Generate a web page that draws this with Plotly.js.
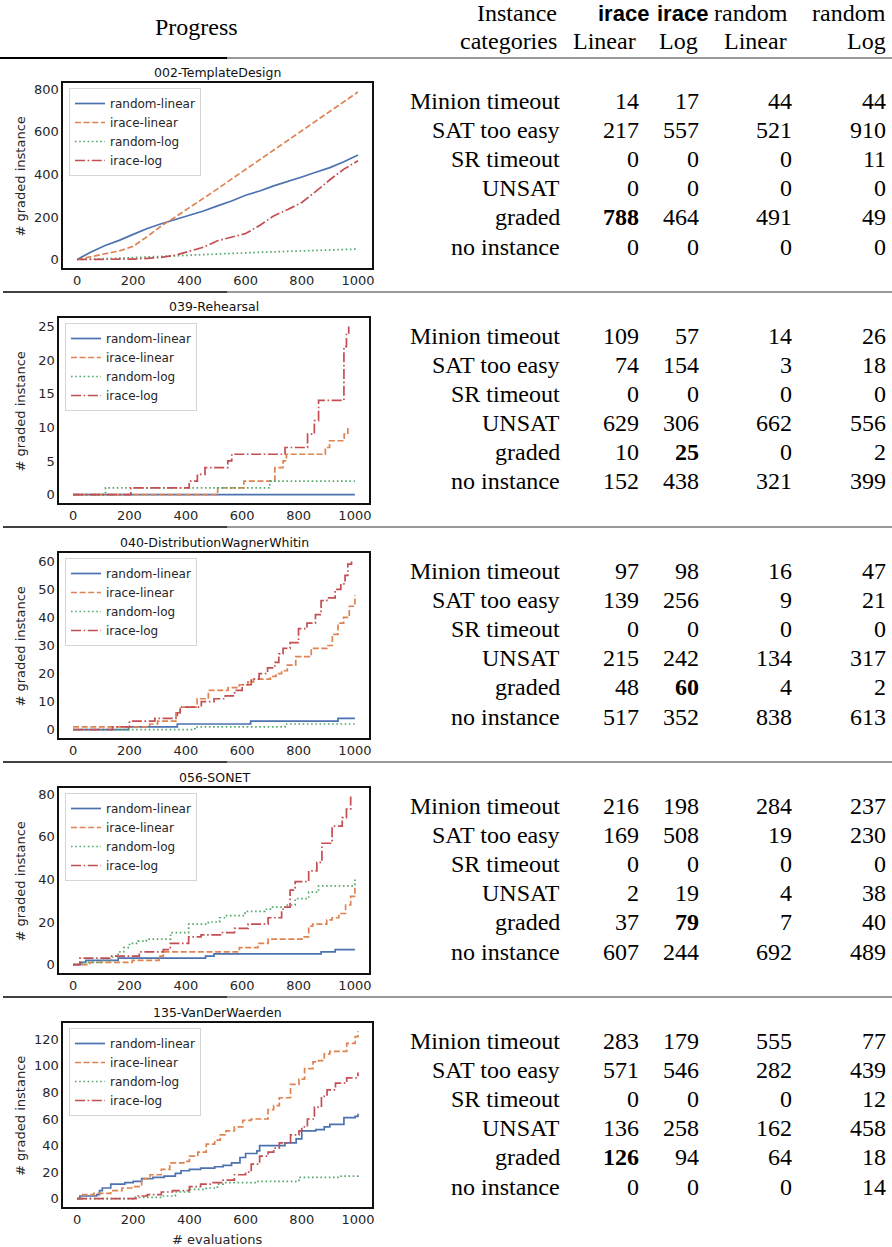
<!DOCTYPE html>
<html>
<head>
<meta charset="utf-8">
<script src="https://cdn.plot.ly/plotly-3.0.1.min.js"></script>
<style>html,body{margin:0;padding:0;background:#fff;}#chart{width:892px;height:1247px;}</style>
</head>
<body>
<div id="chart"></div>
<script>
// ---------------- DATA ----------------
const problems = ["002-TemplateDesign", "039-Rehearsal", "040-DistributionWagnerWhitin", "056-SONET", "135-VanDerWaerden"];
const seriesNames = ["random-linear", "irace-linear", "random-log", "irace-log"];
const rowLabels = ["Minion timeout", "SAT too easy", "SR timeout", "UNSAT", "graded", "no instance"];
const headerTop = ["Instance", "irace", "irace", "random", "random"];
const headerBottom = ["categories", "Linear", "Log", "Linear", "Log"];

// table values: one array per column, one inner array per problem (rows in rowLabels order)
const iraceLinear  = [[14,217,0,0,788,0],[109,74,0,629,10,152],[97,139,0,215,48,517],[216,169,0,2,37,607],[283,571,0,136,126,0]];
const iraceLog     = [[17,557,0,0,464,0],[57,154,0,306,25,438],[98,256,0,242,60,352],[198,508,0,19,79,244],[179,546,0,258,94,0]];
const randomLinear = [[44,521,0,0,491,0],[14,3,0,662,0,321],[16,9,0,134,4,838],[284,19,0,4,7,692],[555,282,0,162,64,0]];
const randomLog    = [[44,910,11,0,49,0],[26,18,0,556,2,399],[47,21,0,317,2,613],[237,230,0,38,40,489],[77,439,12,458,18,14]];

// progress curves (# evaluations -> # graded instance)
// 002-TemplateDesign
const p1_x          = [0,50,100,150,200,250,300,350,400,450,500,550,600,650,700,750,800,850,900,950,1000];
const p1_randLin_y  = [0,35,66,90,118,146,168,188,207,228,252,275,302,322,346,366,388,410,432,460,491];
const p1_iraceLin_y = [0,15,27,40,62,108,158,200,243,287,332,378,423,468,514,560,605,651,697,742,788];
const p1_randLog_y  = [0,1,3,6,9,12,15,17,20,24,28,30,32,34,36,38,40,42,44,46,49];
const p1_iraceLog_y = [0,0,0,1,2,5,10,20,40,58,88,105,122,160,205,235,268,320,375,425,464];
// 039-Rehearsal
const p2_randLin_x  = [0,1000];
const p2_randLin_y  = [0,0];
const p2_iraceLin_x = [0,513,606,716,745,757,895,910,962,975];
const p2_iraceLin_y = [0,1,2,4,5,6,7,8,9,10];
const p2_randLog_x  = [0,115,698,1000];
const p2_randLog_y  = [0,1,2,2];
const p2_iraceLog_x = [0,205,412,441,468,549,563,752,832,856,871,961,970,978];
const p2_iraceLog_y = [0,1,2,3,4,5,6,7,9,11,14,22,24,25];
// 040-DistributionWagnerWhitin
const p3_randLin_x  = [0,197,370,630,940,1000];
const p3_randLin_y  = [0,1,2,3,4,4];
const p3_iraceLin_x = [0,272,300,365,380,440,480,550,590,620,640,700,720,740,760,790,845,900,920,940,960,980,1000];
const p3_iraceLin_y = [1,2,3,6,8,11,14,15,16,17,18,19,20,21,23,26,29,30,34,38,40,44,48];
const p3_randLog_x  = [0,432,752,1000];
const p3_randLog_y  = [0,1,2,2];
const p3_iraceLog_x = [0,140,200,290,370,380,455,500,540,573,600,632,660,690,716,730,745,770,800,830,860,880,900,930,950,965,975,988];
const p3_iraceLog_y = [0,1,3,4,6,8,10,11,12,14,16,18,20,22,24,27,29,31,36,38,41,46,47,50,52,55,59,60];
// 056-SONET
const p4_randLin_x  = [0,25,45,160,470,500,880,930,1000];
const p4_randLin_y  = [0,1,2,3,4,5,6,7,7];
const p4_iraceLin_x = [0,60,210,305,320,590,656,692,812,836,850,900,919,943,967,985,1000];
const p4_iraceLin_y = [0,1,2,4,6,8,10,12,13,18,19,21,22,24,28,32,37];
const p4_randLog_x  = [0,30,100,140,160,180,200,230,260,346,410,480,520,540,610,680,700,760,788,836,871,979,1000];
const p4_randLog_y  = [0,1,2,4,6,8,10,11,12,15,19,20,22,23,25,26,27,28,31,34,37,37,40];
const p4_iraceLog_x = [0,24,130,235,320,345,410,454,530,573,621,692,740,752,770,788,836,865,883,919,955,970,985];
const p4_iraceLog_y = [0,3,4,6,7,10,13,14,15,17,19,22,26,27,35,39,44,48,57,65,69,73,79];
// 135-VanDerWaerden
const p5_randLin_x  = [0,10,70,80,90,120,170,200,230,270,310,350,370,400,440,490,520,550,580,600,640,650,720,740,780,800,850,880,900,950,990,1000];
const p5_randLin_y  = [0,2,3,6,8,11,12,13,15,16,17,19,21,22,23,24,25,27,31,34,36,40,40,42,45,51,52,54,56,61,62,64];
const p5_iraceLin_x = [0,20,60,120,160,200,230,260,300,330,380,400,430,460,490,510,530,560,590,620,680,700,720,760,790,810,840,860,880,900,960,990,1000];
const p5_iraceLin_y = [0,3,4,6,8,9,15,18,22,27,28,32,35,41,44,48,51,54,59,60,67,70,76,86,90,98,103,104,109,111,117,122,126];
const p5_randLog_x  = [0,200,300,350,400,460,500,520,640,790,940,1000];
const p5_randLog_y  = [0,1,2,5,7,8,11,12,13,16,17,18];
const p5_iraceLog_x = [0,210,250,300,340,400,440,480,520,560,600,620,650,680,700,720,760,790,800,820,845,870,890,920,960,1000];
const p5_iraceLog_y = [0,2,3,5,6,9,11,12,14,18,20,26,32,35,38,42,48,51,54,60,69,77,82,87,91,95];

const curves = [
  [[p1_x,p1_randLin_y],[p1_x,p1_iraceLin_y],[p1_x,p1_randLog_y],[p1_x,p1_iraceLog_y]],
  [[p2_randLin_x,p2_randLin_y],[p2_iraceLin_x,p2_iraceLin_y],[p2_randLog_x,p2_randLog_y],[p2_iraceLog_x,p2_iraceLog_y]],
  [[p3_randLin_x,p3_randLin_y],[p3_iraceLin_x,p3_iraceLin_y],[p3_randLog_x,p3_randLog_y],[p3_iraceLog_x,p3_iraceLog_y]],
  [[p4_randLin_x,p4_randLin_y],[p4_iraceLin_x,p4_iraceLin_y],[p4_randLog_x,p4_randLog_y],[p4_iraceLog_x,p4_iraceLog_y]],
  [[p5_randLin_x,p5_randLin_y],[p5_iraceLin_x,p5_iraceLin_y],[p5_randLog_x,p5_randLog_y],[p5_iraceLog_x,p5_iraceLog_y]]
];

// ---------------- STYLE / LAYOUT ----------------
const W = 892, H = 1247;
const px = v => v / W;
const py = v => 1 - v / H;
const colors = ["#4C72B0", "#DD8452", "#55A868", "#C44E52"];
const dashes = ["solid", "6px,2.6px", "1.6px,2.6px", "10px,2.6px,1.6px,2.6px"];
const boxes = [
  {x0:63, x1:372, y0:83,   y1:268,  yr:[-40,830],     dy:200, shape:"linear"},
  {x0:59, x1:369, y0:318,  y1:503,  yr:[-1.25,26.25], dy:5,   shape:"hv"},
  {x0:59, x1:369, y0:553,  y1:738,  yr:[-3,63],       dy:10,  shape:"hv"},
  {x0:59, x1:369, y0:788,  y1:973,  yr:[-3.95,82.95], dy:20,  shape:"hv"},
  {x0:63, x1:372, y0:1023, y1:1207, yr:[-6.3,132.3],  dy:20,  shape:"hv"}
];
const sepY = [292, 527, 762, 997];
const plotFont = "DejaVu Sans";
const serif = "Liberation Serif";
const tableSize = 24;
const colRight = [562, 641, 701, 794, 888];

const traces = [];
const layout = {
  width: W, height: H,
  margin: {l:0, r:0, t:0, b:0},
  paper_bgcolor: "#fff", plot_bgcolor: "#fff",
  showlegend: true,
  annotations: [], shapes: []
};

boxes.forEach((b, i) => {
  const n = i === 0 ? "" : String(i + 1);
  layout["xaxis" + n] = {
    domain: [px(b.x0), px(b.x1)], anchor: "y" + n, range: [-50, 1050],
    showline: true, mirror: true, linecolor: "#111", linewidth: 1.6,
    ticks: "", showgrid: false, zeroline: false,
    tickvals: [0,200,400,600,800,1000],
    tickfont: {family: plotFont, size: 13, color: "#262626"}
  };
  layout["yaxis" + n] = {
    domain: [py(b.y1), py(b.y0)], anchor: "x" + n, range: b.yr,
    showline: true, mirror: true, linecolor: "#111", linewidth: 1.6,
    ticks: "", showgrid: false, zeroline: false, dtick: b.dy, tick0: 0,
    tickfont: {family: plotFont, size: 13, color: "#262626"}
  };
  const legName = "legend" + n;
  layout[legName] = {
    x: px(b.x0 + 6), y: py(b.y0 + 5), xanchor: "left", yanchor: "top",
    bgcolor: "rgba(255,255,255,0.9)", bordercolor: "#d5d5d5", borderwidth: 1,
    font: {family: plotFont, size: 12, color: "#262626"}, tracegroupgap: 0
  };
  curves[i].forEach((c, k) => {
    traces.push({
      type: "scatter", mode: "lines", x: c[0], y: c[1], name: seriesNames[k],
      xaxis: "x" + n, yaxis: "y" + n, legend: legName, showlegend: true,
      line: {color: colors[k], width: 1.7, dash: dashes[k], shape: b.shape}
    });
  });
  // subplot title
  layout.annotations.push({
    xref: "paper", yref: "paper", x: px((b.x0 + b.x1) / 2), y: py(b.y0 - 11),
    xanchor: "center", yanchor: "middle", showarrow: false, text: problems[i],
    font: {family: plotFont, size: 12.5, color: "#111"}
  });
  // y-axis title
  layout.annotations.push({
    xref: "paper", yref: "paper", x: px(20), y: py((b.y0 + b.y1) / 2 + 1),
    xanchor: "center", yanchor: "middle", showarrow: false, textangle: -90,
    text: "# graded instance", font: {family: plotFont, size: 13, color: "#262626"}
  });
});
// x-axis title (bottom plot only)
layout.annotations.push({
  xref: "paper", yref: "paper", x: px(217), y: py(1239), xanchor: "center", yanchor: "middle",
  showarrow: false, text: "# evaluations", font: {family: plotFont, size: 13, color: "#262626"}
});

// ---------------- TABLE ----------------
const ann = (x, y, text, opts) => layout.annotations.push(Object.assign({
  xref: "paper", yref: "paper", x: px(x), y: py(y), xanchor: "right", yanchor: "middle",
  showarrow: false, text: text, font: {family: serif, size: tableSize, color: "#000"}
}, opts || {}));

ann(196, 27, "Progress", {xanchor: "center"});
ann(559, 13, headerTop[0]);
ann(559, 41, headerBottom[0]);
const sansBold = {family: "Liberation Sans", size: 22, color: "#000"};
ann(623, 13, "<b>" + headerTop[1] + "</b>", {xanchor: "center", font: sansBold});
ann(682, 13, "<b>" + headerTop[2] + "</b>", {xanchor: "center", font: sansBold});
ann(751, 13, headerTop[3], {xanchor: "center"});
ann(888, 13, headerTop[4]);
ann(638, 41, headerBottom[1]);
ann(700, 41, headerBottom[2]);
ann(789, 41, headerBottom[3]);
ann(888, 41, headerBottom[4]);

const cols = [iraceLinear, iraceLog, randomLinear, randomLog];
for (let b = 0; b < problems.length; b++) {
  const gradedIdx = rowLabels.indexOf("graded");
  const gvals = cols.map(c => c[b][gradedIdx]);
  const gmax = Math.max(...gvals);
  for (let r = 0; r < rowLabels.length; r++) {
    const y = 101 + 235 * b + 29.1 * r;
    ann(colRight[0], y, rowLabels[r]);
    cols.forEach((c, k) => {
      const v = c[b][r];
      const bold = (r === gradedIdx && v === gmax);
      ann(colRight[k + 1], y, bold ? "<b>" + v + "</b>" : String(v));
    });
  }
}

// rules
const line = (x0, x1, y, w, col) => layout.shapes.push({
  type: "line", xref: "paper", yref: "paper", x0: px(x0), x1: px(x1), y0: py(y), y1: py(y),
  line: {color: col, width: w}
});
line(0, 227, 58, 1.8, "#000");
line(227, 892, 58, 1.2, "#333");
sepY.forEach(y => { line(3, 227, y, 1.6, "#000"); line(227, 892, y, 1.1, "#333"); });

Plotly.newPlot("chart", traces, layout, {displayModeBar: false, staticPlot: true});
</script>
</body>
</html>
